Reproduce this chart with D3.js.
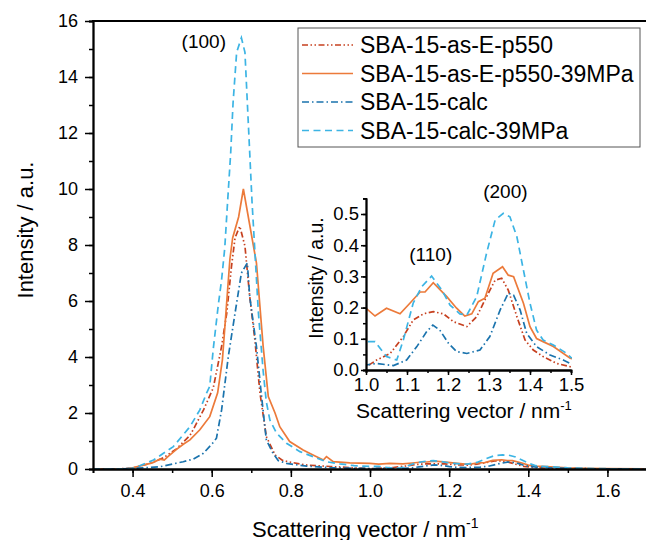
<!DOCTYPE html>
<html>
<head>
<meta charset="utf-8">
<script src="https://cdn.jsdelivr.net/npm/d3@7"></script>
<style>
  body { margin: 0; background: #fff; }
  svg { display: block; font-family: "Liberation Sans", Arial, sans-serif; }
</style>
</head>
<body>
<svg id="chart" width="646" height="540"></svg>
<script>
// SAXS curves, [q (nm^-1), intensity (a.u.)]
const asE = [[0.30,0],[0.36,0],[0.40,0.03],[0.444,0.2],[0.478,0.4],[0.511,0.72],[0.545,1.2],[0.553,1.4],[0.579,2.1],[0.604,2.9],[0.625,4.38],[0.638,5.57],[0.65,7.24],[0.659,8.26],[0.671,8.67],[0.684,7.96],[0.696,6.17],[0.709,4.62],[0.722,2.71],[0.738,1.16],[0.76,0.5],[0.78,0.3],[0.80,0.24],[0.84,0.14],[0.9,0.09],[0.95,0.05],[1.0,0.01],[1.026,0.032],[1.059,0.053],[1.091,0.107],[1.115,0.16],[1.14,0.18],[1.164,0.187],[1.189,0.18],[1.213,0.155],[1.246,0.139],[1.27,0.171],[1.294,0.235],[1.315,0.288],[1.331,0.294],[1.347,0.256],[1.368,0.171],[1.388,0.096],[1.408,0.064],[1.432,0.043],[1.465,0.021],[1.5,0.01],[1.55,0.01],[1.7,0]];
const asE39 = [[0.30,0],[0.38,0],[0.40,0.04],[0.427,0.14],[0.45,0.22],[0.469,0.35],[0.48,0.32],[0.49,0.45],[0.511,0.7],[0.53,0.9],[0.545,1.04],[0.57,1.4],[0.595,1.87],[0.615,2.72],[0.627,3.9],[0.636,5.6],[0.646,7.5],[0.653,8.26],[0.668,9.0],[0.68,10.0],[0.713,7.36],[0.73,4.38],[0.743,2.59],[0.76,2.0],[0.772,1.51],[0.797,0.98],[0.831,0.68],[0.856,0.5],[0.882,0.32],[0.89,0.44],[0.907,0.26],[0.949,0.22],[1.0,0.198],[1.022,0.173],[1.05,0.198],[1.083,0.18],[1.107,0.214],[1.132,0.25],[1.144,0.25],[1.164,0.28],[1.197,0.235],[1.221,0.198],[1.241,0.173],[1.258,0.18],[1.274,0.219],[1.29,0.23],[1.31,0.31],[1.333,0.331],[1.347,0.304],[1.36,0.299],[1.384,0.214],[1.4,0.139],[1.416,0.101],[1.432,0.091],[1.457,0.075],[1.498,0.038],[1.55,0.02],[1.6,0.01],[1.7,0.005]];
const calc = [[0.30,0],[0.36,0],[0.40,0.02],[0.469,0.08],[0.528,0.26],[0.553,0.35],[0.579,0.56],[0.604,0.95],[0.612,1.1],[0.625,2.11],[0.642,4.02],[0.659,5.57],[0.675,7.0],[0.69,7.36],[0.696,6.17],[0.713,4.38],[0.726,2.59],[0.738,1.04],[0.755,0.56],[0.768,0.3],[0.789,0.2],[0.84,0.1],[0.9,0.05],[0.95,0.03],[1.0,0.016],[1.026,0.021],[1.067,0.014],[1.099,0.032],[1.124,0.075],[1.148,0.123],[1.163,0.144],[1.18,0.128],[1.201,0.086],[1.221,0.059],[1.246,0.053],[1.278,0.064],[1.302,0.107],[1.327,0.192],[1.347,0.246],[1.36,0.24],[1.376,0.192],[1.392,0.117],[1.416,0.075],[1.449,0.048],[1.481,0.032],[1.5,0.02],[1.55,0.01],[1.7,0]];
const calc39 = [[0.30,0],[0.36,0],[0.402,0.02],[0.453,0.32],[0.503,0.8],[0.545,1.51],[0.57,2.11],[0.587,2.71],[0.595,2.95],[0.604,4.3],[0.617,5.9],[0.625,6.76],[0.633,7.9],[0.64,9.51],[0.648,11.3],[0.654,13.09],[0.663,14.88],[0.675,15.4],[0.684,14.88],[0.69,13.09],[0.696,11.3],[0.702,9.51],[0.709,7.8],[0.718,5.57],[0.73,3.5],[0.738,2.4],[0.747,1.75],[0.764,1.28],[0.789,0.92],[0.823,0.62],[0.856,0.44],[0.89,0.26],[0.924,0.18],[0.96,0.12],[1.0,0.091],[1.022,0.091],[1.05,0.043],[1.075,0.032],[1.091,0.096],[1.115,0.214],[1.136,0.267],[1.16,0.301],[1.185,0.256],[1.205,0.208],[1.229,0.18],[1.246,0.176],[1.27,0.235],[1.294,0.374],[1.315,0.481],[1.335,0.502],[1.351,0.491],[1.368,0.427],[1.384,0.32],[1.4,0.214],[1.416,0.128],[1.432,0.096],[1.457,0.08],[1.49,0.053],[1.5,0.04],[1.55,0.02],[1.6,0.01],[1.7,0]];

const seriesNames = ["SBA-15-as-E-p550", "SBA-15-as-E-p550-39MPa", "SBA-15-calc", "SBA-15-calc-39MPa"];
const seriesData = [asE, asE39, calc, calc39];
const seriesColors = ["#c6401f", "#ec7a3a", "#1a73ad", "#3cb4e4"];
const seriesDash = ["6,2.5,1.5,2.5,1.5,2.5", null, "7,3,1.5,3", "7,4.5"];

const mainTicksX = [0.4, 0.6, 0.8, 1.0, 1.2, 1.4, 1.6];
const mainTicksY = [0, 2, 4, 6, 8, 10, 12, 14, 16];
const insetTicksX = [1.0, 1.1, 1.2, 1.3, 1.4, 1.5];
const insetTicksY = [0.0, 0.1, 0.2, 0.3, 0.4, 0.5];

const peakLabels = [
  {text: "(100)", q: 0.58, i: 15.05, inset: false},
  {text: "(110)", q: 1.158, i: 0.35, inset: true},
  {text: "(200)", q: 1.34, i: 0.55, inset: true}
];

const svg = d3.select("#chart");

// main plot
const x = d3.scaleLinear().domain([0.3, 1.7]).range([93, 647]);
const y = d3.scaleLinear().domain([0, 16]).range([469, 21]);

// inset
const xi = d3.scaleLinear().domain([1.0, 1.5]).range([366, 571]);
const yi = d3.scaleLinear().domain([0, 0.55]).range([370, 198.4]);

const defs = svg.append("defs");
defs.append("clipPath").attr("id", "clipMain")
  .append("rect").attr("x", 93).attr("y", 21).attr("width", 554).attr("height", 448);
defs.append("clipPath").attr("id", "clipInset")
  .append("rect").attr("x", 366).attr("y", 190).attr("width", 206).attr("height", 180);

function drawLines(g, xs, ys, clip) {
  const line = d3.line().x(d => xs(d[0])).y(d => ys(d[1]));
  g.append("g").attr("clip-path", `url(#${clip})`)
    .selectAll("path")
    .data(seriesData)
    .join("path")
    .attr("d", line)
    .attr("fill", "none")
    .attr("stroke", (d, i) => seriesColors[i])
    .attr("stroke-width", 1.7)
    .attr("stroke-dasharray", (d, i) => seriesDash[i]);
}

function styleAxis(g, fontSize) {
  g.select(".domain").attr("stroke", "#000").attr("stroke-width", 1.8);
  g.selectAll(".tick line").attr("stroke", "#000").attr("stroke-width", 1.5);
  g.selectAll(".tick text").attr("fill", "#000").attr("font-size", fontSize)
    .attr("font-family", "Liberation Sans, Arial, sans-serif");
}

drawLines(svg, x, y, "clipMain");

// main axes
const minorX = d3.range(0.3, 1.71, 0.1).map(v => +v.toFixed(2));
svg.append("g").attr("transform", "translate(0,469)")
  .call(d3.axisBottom(x).tickValues(minorX).tickSize(4).tickFormat(""))
  .call(g => styleAxis(g, 18));
svg.append("g").attr("transform", "translate(0,469)")
  .call(d3.axisBottom(x).tickValues(mainTicksX).tickSize(8).tickSizeOuter(0).tickPadding(7)
    .tickFormat(d3.format(".1f")))
  .call(g => styleAxis(g, 18));

svg.append("g").attr("transform", "translate(93,0)")
  .call(d3.axisLeft(y).tickValues(d3.range(0, 17, 1)).tickSize(4).tickFormat(""))
  .call(g => styleAxis(g, 18));
svg.append("g").attr("transform", "translate(93,0)")
  .call(d3.axisLeft(y).tickValues(mainTicksY).tickSize(8).tickSizeOuter(0).tickPadding(7))
  .call(g => styleAxis(g, 18));

// top frame
svg.append("line").attr("x1", 92).attr("x2", 646).attr("y1", 21).attr("y2", 21)
  .attr("stroke", "#000").attr("stroke-width", 1.8);

// axis titles
svg.append("text").attr("x", 252).attr("y", 537)
  .attr("font-size", 22)
  .text("Scattering vector / nm")
  .append("tspan").attr("dy", -9).attr("font-size", 14).text("-1");
svg.append("text").attr("transform", "translate(33,230) rotate(-90)")
  .attr("text-anchor", "middle").attr("font-size", 22)
  .text("Intensity / a.u.");

// inset
drawLines(svg, xi, yi, "clipInset");

const minorXi = d3.range(1.0, 1.51, 0.05).map(v => +v.toFixed(2));
svg.append("g").attr("transform", "translate(0,370)")
  .call(d3.axisBottom(xi).tickValues(minorXi).tickSize(3).tickFormat(""))
  .call(g => styleAxis(g, 18.5));
svg.append("g").attr("transform", "translate(0,370)")
  .call(d3.axisBottom(xi).tickValues(insetTicksX).tickSize(5).tickSizeOuter(0).tickPadding(3)
    .tickFormat(d3.format(".1f")))
  .call(g => styleAxis(g, 18.5));

const minorYi = d3.range(0, 0.56, 0.05).map(v => +v.toFixed(2));
svg.append("g").attr("transform", "translate(366,0)")
  .call(d3.axisLeft(yi).tickValues(minorYi).tickSize(3).tickFormat(""))
  .call(g => styleAxis(g, 18.5));
svg.append("g").attr("transform", "translate(366,0)")
  .call(d3.axisLeft(yi).tickValues(insetTicksY).tickSize(5).tickSizeOuter(0).tickPadding(2)
    .tickFormat(d3.format(".1f")))
  .call(g => styleAxis(g, 18.5));

svg.append("text").attr("x", 356).attr("y", 418)
  .attr("font-size", 21)
  .text("Scattering vector / nm")
  .append("tspan").attr("dy", -8).attr("font-size", 13).text("-1");
svg.append("text").attr("transform", "translate(323,278) rotate(-90)")
  .attr("text-anchor", "middle").attr("font-size", 19.5)
  .text("Intensity / a.u.");

// peak labels
svg.selectAll("text.peak")
  .data(peakLabels)
  .join("text")
  .attr("class", "peak")
  .attr("x", d => d.inset ? xi(d.q) : x(d.q))
  .attr("y", d => d.inset ? yi(d.i) : y(d.i))
  .attr("text-anchor", "middle")
  .attr("font-size", 19)
  .text(d => d.text);

// legend
const legend = svg.append("g").attr("transform", "translate(298,28)");
legend.append("rect").attr("width", 342).attr("height", 119)
  .attr("fill", "#fff").attr("stroke", "#555").attr("stroke-width", 1);
const rows = legend.selectAll("g.row")
  .data(seriesNames)
  .join("g")
  .attr("class", "row")
  .attr("transform", (d, i) => `translate(0,${17 + i * 28.5})`);
rows.append("line")
  .attr("x1", 4).attr("x2", 55).attr("y1", 0).attr("y2", 0)
  .attr("stroke", (d, i) => seriesColors[i])
  .attr("stroke-width", 1.7)
  .attr("stroke-dasharray", (d, i) => seriesDash[i]);
rows.append("text")
  .attr("x", 62).attr("y", 8)
  .attr("font-size", 23)
  .text(d => d);
</script>
</body>
</html>
